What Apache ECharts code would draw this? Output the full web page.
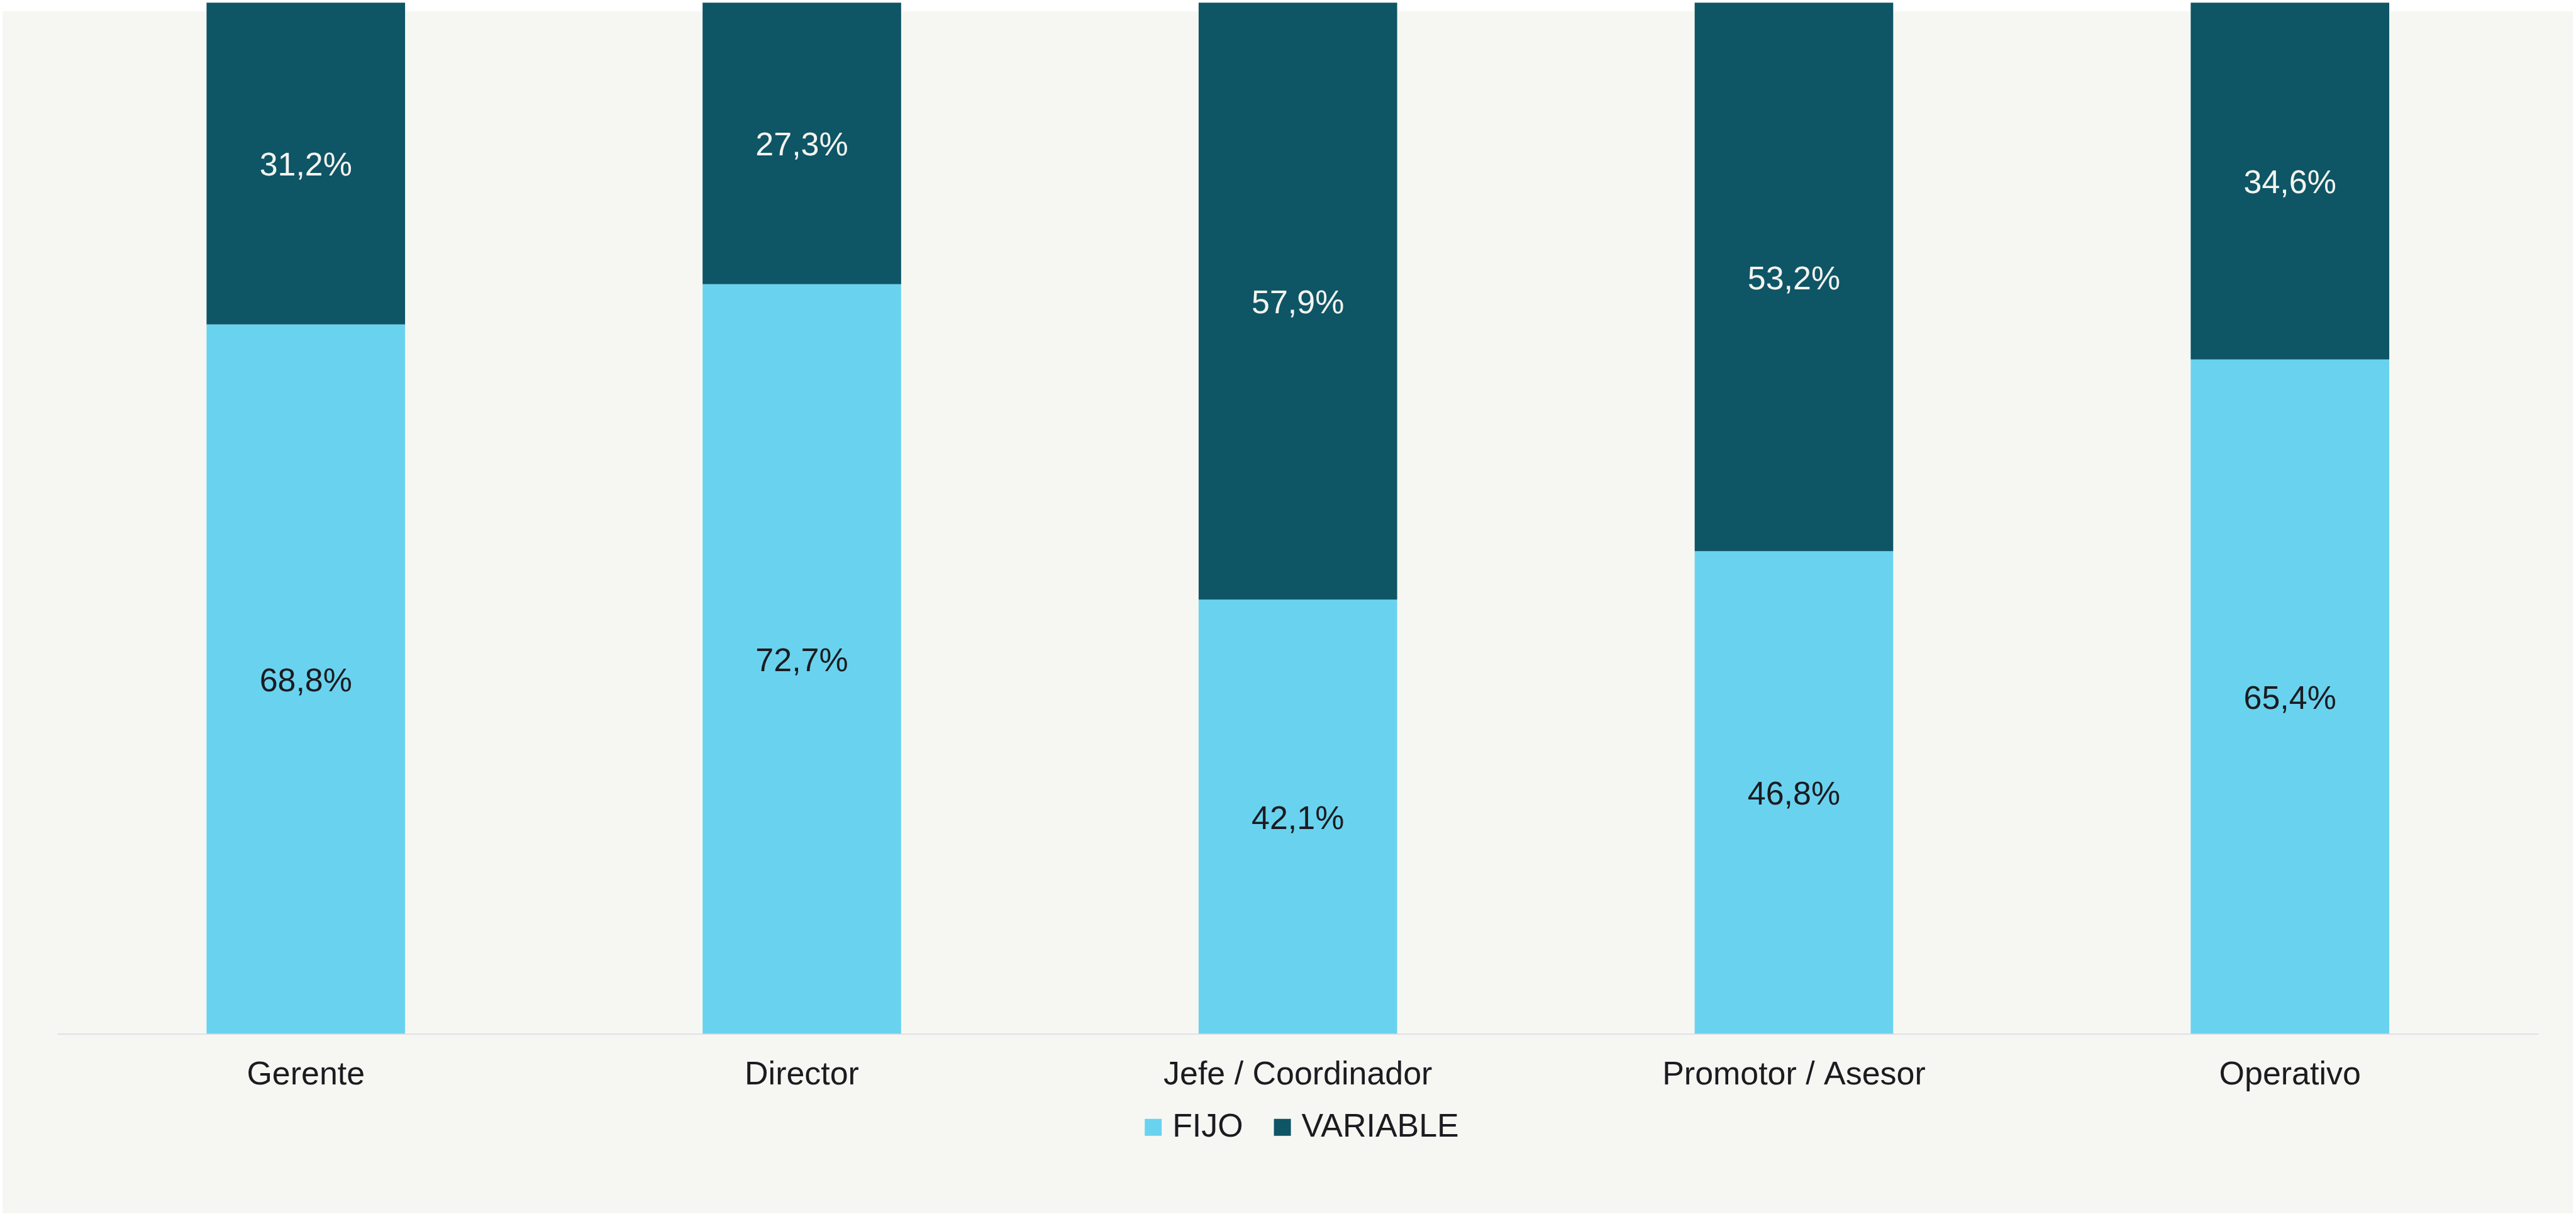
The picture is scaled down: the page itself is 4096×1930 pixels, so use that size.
<!DOCTYPE html>
<html>
<head>
<meta charset="utf-8">
<script src="https://cdn.jsdelivr.net/npm/echarts@6/dist/echarts.min.js"></script>
<style>
  html, body { margin: 0; padding: 0; background: #ffffff; }
  #chart { width: 4096px; height: 1930px; }
</style>
</head>
<body>
<div id="chart"></div>
<script>
// Salary composition by position: fixed vs. variable share (%)
const categories = ['Gerente', 'Director', 'Jefe / Coordinador', 'Promotor / Asesor', 'Operativo'];
const fijo = [68.8, 72.7, 42.1, 46.8, 65.4];
const variable = [31.2, 27.3, 57.9, 53.2, 34.6];
const seriesNames = ['FIJO', 'VARIABLE'];

const S = 0.999; // layout scale
const FONT = '"Liberation Sans", Arial, Helvetica, sans-serif';
const fmt = p => p.value.toFixed(1).replace('.', ',') + '%';

const chart = echarts.init(document.getElementById('chart'), null, { renderer: 'canvas' });

chart.setOption({
  backgroundColor: '#ffffff',
  animation: false,
  textStyle: { fontFamily: FONT },
  graphic: [{
    type: 'rect',
    z: -10,
    silent: true,
    shape: { x: 4 * S, y: 18 * S, width: (4095 - 4) * S, height: (1931 - 18) * S },
    style: { fill: '#f6f7f3' }
  }],
  grid: {
    left: 92 * S,
    right: 60.5 * S,
    top: 4.3 * S,
    bottom: 287 * S,
    outerBoundsMode: 'none'
  },
  legend: {
    data: seriesNames,
    left: 1822 * S,
    top: 1768 * S,
    padding: 0,
    itemWidth: 27 * S,
    itemHeight: 27 * S,
    itemGap: 49 * S,
    icon: 'rect',
    textStyle: {
      fontFamily: FONT,
      fontSize: 52 * S,
      color: '#1b1b20',
      padding: [0, 0, 0, 12 * S]
    }
  },
  xAxis: {
    type: 'category',
    data: categories,
    axisLine: { show: true, lineStyle: { color: '#e0e0e6', width: 2 * S } },
    axisTick: { show: false },
    axisLabel: {
      fontFamily: FONT,
      fontSize: 52 * S,
      color: '#1b1b20',
      margin: 40 * S,
      interval: 0
    }
  },
  yAxis: {
    type: 'value',
    min: 0,
    max: 100,
    show: false,
    splitLine: { show: false }
  },
  series: [
    {
      name: seriesNames[0],
      type: 'bar',
      stack: 'total',
      data: fijo,
      barWidth: 316 * S,
      itemStyle: { color: '#69d3ef' },
      label: {
        show: true,
        position: 'inside',
        offset: [0, 5 * S],
        formatter: fmt,
        fontFamily: FONT,
        fontSize: 52 * S,
        color: '#1b1b20'
      }
    },
    {
      name: seriesNames[1],
      type: 'bar',
      stack: 'total',
      data: variable,
      barWidth: 316 * S,
      itemStyle: { color: '#0e5566' },
      label: {
        show: true,
        position: 'inside',
        offset: [0, 5 * S],
        formatter: fmt,
        fontFamily: FONT,
        fontSize: 52 * S,
        color: '#f4f4ef'
      }
    }
  ]
});
</script>
</body>
</html>
